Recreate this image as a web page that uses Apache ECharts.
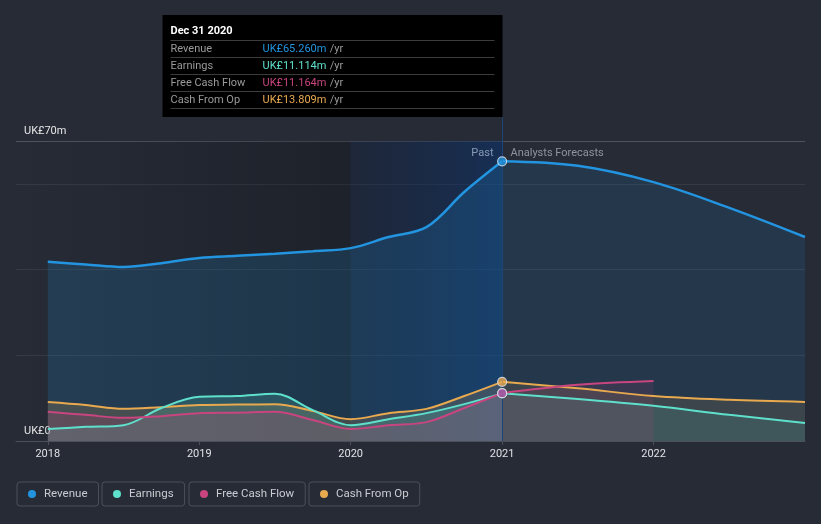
<!DOCTYPE html>
<html><head><meta charset="utf-8">
<script src="https://cdn.jsdelivr.net/npm/echarts@6/dist/echarts.min.js"></script>
<style>html,body{margin:0;padding:0;background:#262b36}#c{width:821px;height:524px}</style>
</head><body><div id="c"></div>
<script>
// ---- data ----
const pastYears = [2018, 2018.25, 2018.5, 2018.75, 2019, 2019.25, 2019.5, 2019.75, 2020, 2020.25, 2020.5, 2020.75, 2021];
const revenuePast  = [41.8, 41.2, 40.6, 41.5, 42.7, 43.2, 43.7, 44.3, 45.0, 47.6, 49.9, 58.1, 65.26];
const earningsPast = [2.8, 3.3, 3.7, 7.7, 10.3, 10.5, 11.0, 7.2, 3.7, 5.1, 6.5, 8.6, 11.114];
const fcfPast      = [6.8, 6.1, 5.4, 5.8, 6.5, 6.6, 6.8, 4.9, 2.8, 3.7, 4.4, 7.7, 11.164];
const cfoPast      = [9.1, 8.4, 7.5, 7.9, 8.4, 8.5, 8.6, 7.0, 5.1, 6.5, 7.5, 10.5, 13.809];

const forecastYears    = [2021, 2021.5, 2022, 2022.5, 2023];
const revenueForecast  = [65.26, 64.2, 60.4, 54.4, 47.6];
const earningsForecast = [11.114, 9.8, 8.2, 6.1, 4.2];
const cfoForecast      = [13.809, 12.3, 10.5, 9.6, 9.1];
const fcfForecastYears = [2021, 2021.5, 2022];
const fcfForecast      = [11.164, 13.1, 14.0];

const xTickYears = [2018, 2019, 2020, 2021, 2022];
const yTickLabels = {0: 'UK£0', 70: 'UK£70m'};
const seriesNames = ['Revenue', 'Earnings', 'Free Cash Flow', 'Cash From Op'];
const tipTitle = 'Dec 31 2020';
const tipValues = ['UK£65.260m', 'UK£11.114m', 'UK£11.164m', 'UK£13.809m'];
const pastLabel = 'Past';
const forecastLabel = 'Analysts Forecasts';

// ---- styles ----
const colors = ['#2394df', '#5ee0cc', '#c8457f', '#e8a94f'];
const xMin = 2017.79, xMax = 2023, yMax = 70;

function pts(xs, ys) { return xs.map((x, i) => [x, ys[i]]); }
function lineSeries(name, data, color, width, areaOpacity, extra) {
  return Object.assign({
    type: 'line', name, data, smooth: 0.35, symbol: 'none',
    lineStyle: { color, width }, itemStyle: { color },
    areaStyle: { color, opacity: areaOpacity }, emphasis: { disabled: true }
  }, extra || {});
}

const chart = echarts.init(document.getElementById('c'), null, { renderer: 'canvas' });

const revPastExtra = {
  markArea: {
    silent: true,
    data: [
      [{ xAxis: xMin, itemStyle: { color: { type: 'linear', x: 0, y: 0, x2: 1, y2: 0,
          colorStops: [{ offset: 0, color: 'rgba(0,0,0,0)' }, { offset: 1, color: 'rgba(0,0,0,0.22)' }] } } },
       { xAxis: 2020 }],
      [{ xAxis: 2020, itemStyle: { color: { type: 'linear', x: 0, y: 0, x2: 1, y2: 0,
          colorStops: [{ offset: 0, color: 'rgba(8,30,70,0.25)' }, { offset: 1, color: 'rgba(10,50,110,0.55)' }] } } },
       { xAxis: 2021 }]
    ]
  },
  markLine: {
    silent: true, symbol: 'none', label: { show: false },
    lineStyle: { color: '#1d4475', width: 1, type: 'solid' },
    data: [{ xAxis: 2021 }]
  }
};

const series = [
  lineSeries('Revenue', pts(pastYears, revenuePast), colors[0], 2.5, 0.18, revPastExtra),
  lineSeries('Revenue', pts(forecastYears, revenueForecast), colors[0], 2.5, 0.12),
  lineSeries('Cash From Op', pts(pastYears, cfoPast), colors[3], 2, 0.18),
  lineSeries('Cash From Op', pts(forecastYears, cfoForecast), colors[3], 2, 0.12),
  lineSeries('Earnings', pts(pastYears, earningsPast), colors[1], 2, 0.18),
  lineSeries('Earnings', pts(forecastYears, earningsForecast), colors[1], 2, 0.12),
  lineSeries('Free Cash Flow', pts(pastYears, fcfPast), colors[2], 2, 0.18),
  lineSeries('Free Cash Flow', pts(fcfForecastYears, fcfForecast), colors[2], 2, 0.12),
  {
    type: 'scatter', name: 'Earnings', z: 5, symbolSize: 9,
    data: [[pastYears[pastYears.length - 1], earningsPast[earningsPast.length - 1]]],
    itemStyle: { color: colors[1], borderColor: '#dde3ea', borderWidth: 1.2 }
  },
  {
    type: 'scatter', name: 'Free Cash Flow', z: 5, symbolSize: 9,
    data: [[pastYears[pastYears.length - 1], fcfPast[fcfPast.length - 1]]],
    itemStyle: { color: '#b0409a', borderColor: '#dde3ea', borderWidth: 1.2 }
  },
  {
    type: 'scatter', name: 'Cash From Op', z: 5, symbolSize: 9,
    data: [[pastYears[pastYears.length - 1], cfoPast[cfoPast.length - 1]]],
    itemStyle: { color: colors[3], borderColor: '#dde3ea', borderWidth: 1.2 }
  },
  {
    type: 'scatter', name: 'Revenue', z: 5, symbolSize: 9,
    data: [[pastYears[pastYears.length - 1], revenuePast[revenuePast.length - 1]]],
    itemStyle: { color: colors[0], borderColor: '#dde3ea', borderWidth: 1.2 }
  }
];

const legendLefts = [17, 102, 189, 309];
const legends = seriesNames.map((n, i) => ({
  data: [n], left: legendLefts[i], top: 482, icon: 'circle', itemWidth: 8, itemHeight: 8,
  padding: [6, 11, 6, 11], borderColor: '#4a505c', borderWidth: 1, borderRadius: 3,
  selectedMode: false,
  textStyle: { color: '#c9ccd1', fontSize: 11.5, fontFamily: 'Roboto', padding: [0, 0, 0, 3] }
}));

chart.setOption({
  backgroundColor: '#262b36',
  animation: false,
  textStyle: { fontFamily: 'Roboto' },
  grid: { left: 16, right: 16, top: 141, bottom: 83, containLabel: false },
  legend: legends,
  xAxis: {
    type: 'value', min: xMin, max: xMax,
    axisLine: { lineStyle: { color: '#4b505b', width: 1 } },
    axisTick: { show: true, length: 4, customValues: xTickYears, lineStyle: { color: '#4b505b' } },
    axisLabel: { customValues: xTickYears, color: '#dfe1e5', fontSize: 11, margin: 8,
      formatter: v => String(Math.round(v)) },
    splitLine: { show: false }
  },
  yAxis: {
    type: 'value', min: 0, max: yMax, interval: 20,
    axisLine: { show: false }, axisTick: { show: false },
    axisLabel: { inside: true, margin: 8, color: '#e6e6e6', fontSize: 11, verticalAlign: 'bottom',
      padding: [0, 0, 4, 0], formatter: v => yTickLabels[v] || '' },
    splitLine: { lineStyle: { color: ['#353a45', '#353a45', '#353a45', '#353a45', '#4e535d'], width: 1 } }
  },
  series
});

// overlays: tooltip box, past/forecast labels, connecting line
const p = chart.convertToPixel({ gridIndex: 0 }, [2021, yMax]);
const px = Math.round(p[0]) + 0.5, topY = p[1];
const boxW = 340, boxH = 102, boxTop = 15, boxLeft = px - boxW;
const tipChildren = [
  { type: 'rect', shape: { x: 0, y: 0, width: boxW, height: boxH }, style: { fill: '#000' } },
  { type: 'text', x: 8, y: 16, style: { text: tipTitle, fill: '#fff', font: 'bold 11px Roboto', verticalAlign: 'middle' } }
];
seriesNames.forEach((n, i) => {
  const ly = 25.5 + i * 17;
  tipChildren.push({ type: 'line', shape: { x1: 8, y1: ly, x2: 332, y2: ly }, style: { stroke: '#3c3c3c', lineWidth: 1 } });
  tipChildren.push({ type: 'text', x: 8, y: ly + 8.5, style: { text: n, fill: '#9a9a9a', font: '11px Roboto', verticalAlign: 'middle' } });
  tipChildren.push({ type: 'text', x: 100, y: ly + 8.5, style: {
    text: '{v|' + tipValues[i] + '} {u|/yr}', verticalAlign: 'middle',
    rich: { v: { fill: colors[i], font: '11px Roboto' }, u: { fill: '#9a9a9a', font: '11px Roboto' } } } });
});
tipChildren.push({ type: 'line', shape: { x1: 8, y1: 25.5 + 4 * 17, x2: 332, y2: 25.5 + 4 * 17 }, style: { stroke: '#3c3c3c', lineWidth: 1 } });

chart.setOption({
  graphic: [
    { type: 'line', shape: { x1: px, y1: boxTop + boxH, x2: px, y2: topY }, style: { stroke: '#1d4475', lineWidth: 1 }, silent: true },
    { type: 'group', x: boxLeft, y: boxTop, children: tipChildren, silent: true },
    { type: 'text', x: px - 9, y: topY + 12, style: { text: pastLabel, fill: '#ffffff', font: '11px Roboto', align: 'right', verticalAlign: 'middle' } },
    { type: 'text', x: px + 8, y: topY + 12, style: { text: forecastLabel, fill: '#8f949c', font: '11px Roboto', align: 'left', verticalAlign: 'middle' } }
  ]
});
</script></body></html>
